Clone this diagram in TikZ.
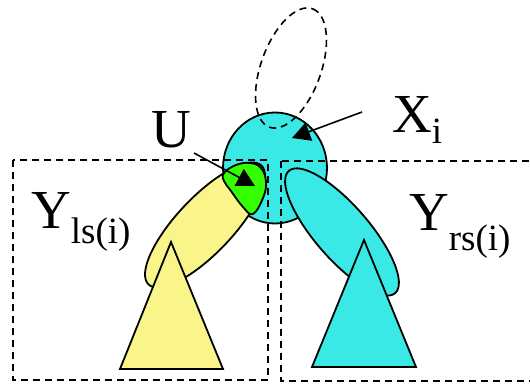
\documentclass[tikz,border=0pt]{standalone}
\usepackage{fontspec}
\setmainfont{Liberation Serif}
\usetikzlibrary{arrows.meta}
\definecolor{cyanc}{RGB}{58,233,229}
\definecolor{yellowc}{RGB}{249,245,138}
\definecolor{greenc}{RGB}{51,255,0}
\tikzset{
  outl/.style={draw=black, line width=1.8pt},
  dashbox/.style={draw=black, line width=2.2pt, dash pattern=on 7pt off 5pt},
  arr/.style={draw=black, line width=1.6pt, -{Triangle[length=18pt,width=19pt]}},
  big/.style={inner sep=0pt, font=\fontsize{55}{55}\selectfont},
}
\newcommand{\subtxt}[2]{\raisebox{-#1pt}{\fontsize{37}{37}\selectfont #2}}
\begin{document}
\begin{tikzpicture}[x=1pt,y=-1pt]
\useasboundingbox (0,0) rectangle (530,385);
\clip (0,0) rectangle (530,385);
% root circle X_i
\draw[outl, fill=cyanc] (275,168) ellipse [x radius=52, y radius=55.5];
% dashed ellipse above
\draw[draw=black, line width=1.6pt, dash pattern=on 7pt off 5pt, rotate around={70:(291,68)}]
  (291,68) ellipse [x radius=63, y radius=30];
% dashed boxes
\draw[dashbox] (13,160) rectangle (268,380);
\draw[dashbox] (281,161) rectangle (545,381);
% ellipses
\draw[outl, fill=yellowc, rotate around={46.5:(205,225)}] (205,225) ellipse [x radius=82, y radius=28];
\draw[outl, fill=cyanc, rotate around={-49:(342,232)}] (342,232) ellipse [x radius=81, y radius=27];
% triangles
\draw[outl, fill=yellowc] (171,242) -- (120,369) -- (223,369) -- cycle;
\draw[outl, fill=cyanc] (364,240) -- (312,367) -- (416,367) -- cycle;
% green region U
\draw[outl, fill=greenc] plot[smooth cycle, tension=0.7] coordinates
  {(224,173) (236,165) (250,163) (261,168) (266,182) (263,198) (253,214) (243,207) (231,191) (224,181)};
% arrows
\coordinate (Utail) at (194,153);
\coordinate (Utip) at (255,186);
\coordinate (Xtail) at (362,112);
\coordinate (Xtip) at (292,138);
\draw[arr] (Utail) -- (Utip);
\draw[arr] (Xtail) -- (Xtip);
% labels
\node[big, anchor=base] (Ulab) at (171.5,147) {U};
\node[big, anchor=base west] (Xlab) at (392,132) {X\subtxt{12}{i}};
\node[big, anchor=base west] (Yl) at (31,228) {Y\subtxt{15}{ls(i)}};
\node[big, anchor=base west] (Yr) at (409,230) {Y\subtxt{20}{rs(i)}};
\end{tikzpicture}
\end{document}
